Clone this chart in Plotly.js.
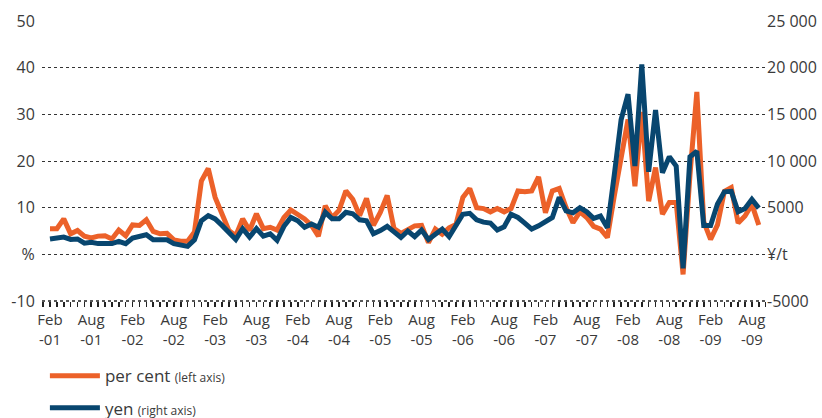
<!DOCTYPE html>
<html>
<head>
<meta charset="utf-8">
<script src="https://cdn.plot.ly/plotly-3.0.1.min.js"></script>
<style>
  html, body { margin: 0; padding: 0; background: #fff; }
  #chart { width: 822px; height: 418px; }
</style>
</head>
<body>
<div id="chart"></div>
<script>
// Monthly series, Feb-01 .. Sep-09
var percentValues = [
  5.5, 5.5, 7.6, 4.4, 5.1, 3.9, 3.5, 3.9, 4.0, 3.3, 5.2, 4.0,
  6.3, 6.2, 7.4, 4.9, 4.4, 4.5, 3.1, 2.8, 2.8, 4.8, 15.7, 18.4,
  12.2, 8.3, 5.1, 4.0, 7.6, 5.1, 8.7, 5.5, 5.8, 5.2, 7.9, 9.5,
  8.7, 7.6, 6.2, 3.9, 10.4, 7.9, 9.4, 13.6, 11.8, 8.3, 12.0, 6.2,
  9.0, 12.6, 5.5, 4.5, 5.3, 6.1, 6.2, 2.5, 5.4, 4.3, 5.7, 6.4,
  12.2, 14.1, 10.0, 9.8, 9.1, 9.8, 9.1, 9.8, 13.6, 13.4, 13.6, 16.6,
  8.9, 13.6, 14.1, 10.0, 6.8, 9.1, 7.9, 6.0, 5.4, 3.6, 12.5, 21.1,
  28.9, 14.6, 30.5, 11.4, 18.6, 8.6, 11.1, 11.1, -4.3, 17.0, 34.8, 7.0,
  3.2, 6.3, 13.5, 14.3, 6.7, 8.2, 10.7, 6.3
];

var yenValues = [
  1650, 1750, 1850, 1600, 1650, 1200, 1300, 1150, 1200, 1150, 1400, 1150,
  1750, 1950, 2100, 1550, 1500, 1550, 1150, 1050, 850, 1550, 3600, 4150,
  3800, 3100, 2400, 1600, 2750, 1850, 2750, 1950, 2200, 1500, 3000, 3950,
  3600, 2900, 3250, 2900, 4500, 3800, 3800, 4500, 4350, 3700, 3600, 2200,
  2550, 3000, 2400, 1800, 2500, 1900, 2600, 1600, 2150, 2700, 1900, 3200,
  4300, 4400, 3700, 3450, 3350, 2600, 2950, 4300, 3950, 3350, 2700, 3050,
  3550, 3950, 6100, 4650, 4450, 5000, 4550, 3850, 4100, 2850, 8500, 14450,
  17150, 9450, 20350, 8850, 15450, 8750, 10450, 9450, -1500, 10450, 11050, 3100,
  3100, 5400, 6700, 6750, 4550, 4900, 5900, 4950
];

var xTickLabels = [
  "Feb<br>-01", "Aug<br>-01", "Feb<br>-02", "Aug<br>-02", "Feb<br>-03", "Aug<br>-03",
  "Feb<br>-04", "Aug<br>-04", "Feb<br>-05", "Aug<br>-05", "Feb<br>-06", "Aug<br>-06",
  "Feb<br>-07", "Aug<br>-07", "Feb<br>-08", "Aug<br>-08", "Feb<br>-09", "Aug<br>-09"
];
var leftTickVals = [-10, 0, 10, 20, 30, 40, 50];
var leftTickText = ["-10", "%", "10", "20", "30", "40", "50"];
var rightTickVals = [-5000, 0, 5000, 10000, 15000, 20000, 25000];
var rightTickText = ["-5000", "¥/t", "5000", "10 000", "15 000", "20 000", "25 000"];

var seriesNames = [
  'per cent <span style="font-size:12px">(left axis)</span>',
  'yen <span style="font-size:12px">(right axis)</span>'
];

var monthIdx = percentValues.map(function (_, i) { return i; });
var labelVals = xTickLabels.map(function (_, k) { return k * 6; });

var ORANGE = '#EC6129';
var BLUE = '#08466F';
var TXT = '#3a3a3a';
var FONT = '"Open Sans", "Noto Sans", sans-serif';

var traces = [
  {
    x: monthIdx, y: percentValues, type: 'scatter', mode: 'lines',
    name: seriesNames[0], yaxis: 'y', legend: 'legend',
    line: { color: ORANGE, width: 5, shape: 'linear' }
  },
  {
    x: monthIdx, y: yenValues, type: 'scatter', mode: 'lines',
    name: seriesNames[1], yaxis: 'y2', legend: 'legend2',
    line: { color: BLUE, width: 5, shape: 'linear' }
  }
];

var layout = {
  width: 822, height: 418,
  margin: { l: 42, r: 56, t: 21, b: 117, autoexpand: false },
  paper_bgcolor: '#fff', plot_bgcolor: '#fff',
  font: { family: FONT, color: TXT, size: 16 },
  showlegend: true,
  xaxis: {
    range: [-1.16, 104.05],
    tickmode: 'array', tickvals: labelVals, ticktext: xTickLabels,
    ticks: 'outside', ticklen: 5, tickwidth: 1.6, tickcolor: '#222',
    minor: { tickmode: 'linear', tick0: -1, dtick: 1, ticks: 'outside', ticklen: 5, tickwidth: 1.6, tickcolor: '#222', showgrid: false },
    showgrid: false, zeroline: false, showline: false,
    tickfont: { size: 15, color: TXT }
  },
  yaxis: {
    range: [-10, 50],
    tickmode: 'array', tickvals: leftTickVals, ticktext: leftTickText,
    showgrid: true, gridcolor: '#333', griddash: 'dot', gridwidth: 1,
    zeroline: false, showline: false,
    ticks: 'outside', ticklen: 3, tickcolor: 'rgba(0,0,0,0)',
    tickfont: { size: 16, color: TXT }
  },
  yaxis2: {
    range: [-5000, 25000], overlaying: 'y', side: 'right',
    tickmode: 'array', tickvals: rightTickVals, ticktext: rightTickText,
    showgrid: false, zeroline: false, showline: false, ticks: '',
    tickfont: { size: 16, color: TXT }
  },
  shapes: [
    { type: 'line', xref: 'paper', yref: 'paper', x0: 0, x1: 1, y0: 0, y1: 0,
      line: { color: '#222', width: 1.6, dash: 'dot' } }
  ],
  legend: {
    x: 0.004, y: -0.204, xanchor: 'left', yanchor: 'top',
    bgcolor: 'rgba(255,255,255,0)', itemwidth: 50,
    font: { size: 17, color: TXT }
  },
  legend2: {
    x: 0.004, y: -0.319, xanchor: 'left', yanchor: 'top',
    bgcolor: 'rgba(255,255,255,0)', itemwidth: 50,
    font: { size: 17, color: TXT }
  }
};

Plotly.newPlot('chart', traces, layout, { displayModeBar: false, staticPlot: true });
</script>
</body>
</html>
